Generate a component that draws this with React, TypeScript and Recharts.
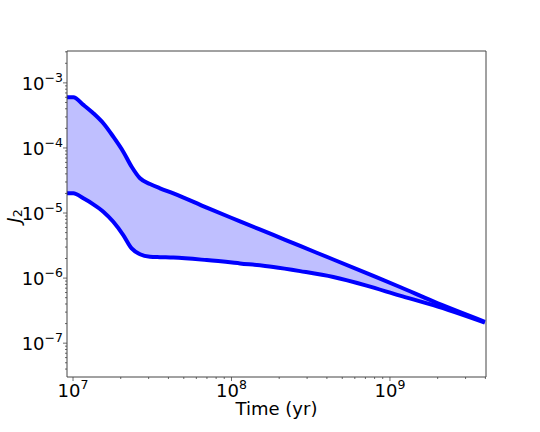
import { ComposedChart, Area, Line, XAxis, YAxis, ReferenceLine } from "recharts";

// time in years, J2 upper and lower envelopes
const years = [
  9.12e6, 1.004e7, 1.162e7, 1.343e7, 1.553e7, 1.795e7, 2.075e7, 2.344e7, 2.647e7, 3.06e7, 3.54e7,
  4.3e7, 6.98e7, 1.132e8, 1.837e8, 2.71e8, 4.39e8, 7.12e8, 1.156e9, 1.876e9, 3.97e9,
];
const j2Upper = [
  6.03e-4, 6.03e-4, 4.59e-4, 3.42e-4, 2.4e-4, 1.49e-4, 8.77e-5, 5.15e-5, 3.42e-5, 2.79e-5, 2.4e-5,
  2.01e-5, 1.21e-5, 7.45e-6, 4.6e-6, 3.12e-6, 1.93e-6, 1.19e-6, 7.3e-7, 4.38e-7, 2.13e-7,
];
const j2Lower = [
  2.01e-5, 2.01e-5, 1.68e-5, 1.36e-5, 1.05e-5, 7.35e-6, 4.59e-6, 2.86e-6, 2.32e-6, 2.13e-6, 2.1e-6,
  2.07e-6, 1.89e-6, 1.68e-6, 1.48e-6, 1.28e-6, 1.04e-6, 7.67e-7, 5.38e-7, 3.85e-7, 2.07e-7,
];

const xMajor = [1e7, 1e8, 1e9];
const xMajorLabels = ["7", "8", "9"];
const yMajor = [1e-7, 1e-6, 1e-5, 1e-4, 1e-3];
const yMajorLabels = ["\u22127", "\u22126", "\u22125", "\u22124", "\u22123"];

const xDomain = [Math.pow(10, 6.962), Math.pow(10, 9.606)];
const yDomain = [Math.pow(10, -7.52), Math.pow(10, -2.51)];

const minorTicks = (lo: number, hi: number) => {
  const out: number[] = [];
  for (let e = Math.floor(Math.log10(lo)); e <= Math.ceil(Math.log10(hi)); e++) {
    for (let m = 2; m <= 9; m++) {
      const v = m * Math.pow(10, e);
      if (v >= lo && v <= hi) out.push(v);
    }
  }
  return out;
};

const xTicks = [...xMajor, ...minorTicks(xDomain[0], xDomain[1])];
const yTicks = [...yMajor, ...minorTicks(yDomain[0], yDomain[1])];

const data = years.map((t, i) => ({
  t,
  upper: j2Upper[i],
  lower: j2Lower[i],
  band: [j2Lower[i], j2Upper[i]],
}));

const FONT = "DejaVu Sans, sans-serif";
const SPINE = "#444";
const FS = 18;
const SUP = 12.5;

const XTick = (props: any) => {
  const { x, y, payload } = props;
  const idx = xMajor.findIndex((v) => Math.abs(v - payload.value) / v < 1e-6);
  if (idx < 0) {
    return <line x1={x} x2={x} y1={y} y2={y + 2} stroke={SPINE} strokeWidth={0.8} />;
  }
  return (
    <g>
      <line x1={x} x2={x} y1={y} y2={y + 4} stroke={SPINE} strokeWidth={0.8} />
      <text x={x} y={y + 20} textAnchor="middle" fontFamily={FONT} fontSize={FS} fill="#000">
        <tspan>10</tspan>
        <tspan dy={-8} fontSize={SUP}>{xMajorLabels[idx]}</tspan>
      </text>
    </g>
  );
};

const YTick = (props: any) => {
  const { x, y, payload } = props;
  const idx = yMajor.findIndex((v) => Math.abs(v - payload.value) / v < 1e-6);
  if (idx < 0) {
    return <line x1={x - 2} x2={x} y1={y} y2={y} stroke={SPINE} strokeWidth={0.8} />;
  }
  return (
    <g>
      <line x1={x - 4} x2={x} y1={y} y2={y} stroke={SPINE} strokeWidth={0.8} />
      <text x={x - 4} y={y + 7} textAnchor="end" fontFamily={FONT} fontSize={FS} fill="#000">
        <tspan>10</tspan>
        <tspan dy={-8} fontSize={SUP}>{yMajorLabels[idx]}</tspan>
      </text>
    </g>
  );
};

export default function App() {
  return (
    <div style={{ position: "absolute", left: 0, top: 0, background: "#fff" }}>
      <ComposedChart
        width={540}
        height={432}
        data={data}
        margin={{ top: 51, right: 54, bottom: 15, left: 7 }}
      >
        <XAxis
          dataKey="t"
          type="number"
          scale="log"
          domain={xDomain}
          allowDataOverflow
          ticks={xTicks}
          interval={0}
          tick={<XTick />}
          tickSize={0}
          tickMargin={0}
          height={40}
          axisLine={{ stroke: SPINE, strokeWidth: 1 }}
          label={{
            content: (p: any) => {
              const vb = p.viewBox || {};
              const cx = (vb.x ?? 67) + (vb.width ?? 420) / 2;
              const cy = (vb.y ?? 377) + 38;
              return (
                <text x={cx} y={cy} textAnchor="middle" fontFamily={FONT} fontSize={FS} fill="#000">
                  Time (yr)
                </text>
              );
            },
          }}
        />
        <YAxis
          type="number"
          scale="log"
          domain={yDomain}
          allowDataOverflow
          ticks={yTicks}
          interval={0}
          tick={<YTick />}
          tickSize={0}
          tickMargin={0}
          width={60}
          axisLine={{ stroke: SPINE, strokeWidth: 1 }}
          label={{
            content: (p: any) => {
              const vb = p.viewBox || {};
              const cx = 13;
              const cy = (vb.y ?? 51) + (vb.height ?? 326) / 2 + 2;
              return (
                <text
                  x={cx}
                  y={cy}
                  transform={`rotate(-90 ${cx} ${cy})`}
                  textAnchor="middle"
                  dominantBaseline="central"
                  fontFamily={FONT}
                  fontSize={FS}
                  fill="#000"
                >
                  <tspan fontStyle="italic">J</tspan>
                  <tspan dy={4} fontSize={SUP}>2</tspan>
                </text>
              );
            },
          }}
        />
        <ReferenceLine y={yDomain[1]} stroke={SPINE} strokeWidth={1} />
        <ReferenceLine x={xDomain[1]} stroke={SPINE} strokeWidth={1} />
        <Area
          dataKey="band"
          type="monotone"
          stroke="none"
          fill="#0000ff"
          fillOpacity={0.25}
          isAnimationActive={false}
        />
        <Line dataKey="upper" type="monotone" stroke="#0000ff" strokeWidth={4} dot={false} isAnimationActive={false} />
        <Line dataKey="lower" type="monotone" stroke="#0000ff" strokeWidth={4} dot={false} isAnimationActive={false} />
      </ComposedChart>
    </div>
  );
}
